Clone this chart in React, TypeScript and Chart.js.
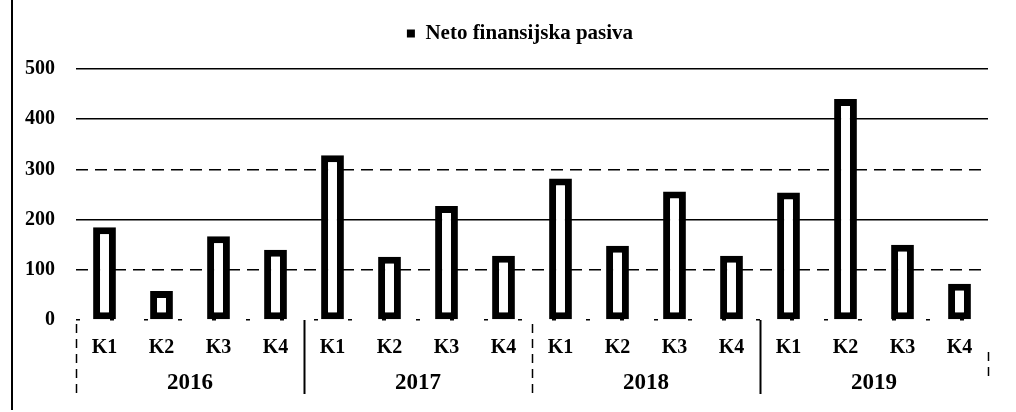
import { useEffect, useRef } from "react";
import { Chart, registerables } from "chart.js";

Chart.register(...registerables);

const quarterLabels = ["K1", "K2", "K3", "K4", "K1", "K2", "K3", "K4", "K1", "K2", "K3", "K4", "K1", "K2", "K3", "K4"];
const years = ["2016", "2017", "2018", "2019"];
const netoFinansijskaPasiva = [185, 58, 167, 140, 328, 126, 227, 128, 282, 148, 256, 128, 254, 440, 150, 72];
const seriesLabel = "Neto finansijska pasiva";
const yMin = 0;
const yMax = 500;
const yStep = 100;

const FONT = "'Liberation Serif', 'Times New Roman', serif";

const legendSpacer = {
  id: "legendSpacer",
  beforeInit(chart: any) {
    const legend = chart.legend;
    if (!legend) return;
    const origFit = legend.fit;
    legend.fit = function () {
      origFit.call(this);
      this.height += 15;
    };
  },
  afterLayout(chart: any) {
    const legend = chart.legend;
    if (!legend) return;
    legend.left += 26;
    legend.right += 26;
  },
};

const yearSeparators = {
  id: "yearSeparators",
  afterDraw(chart: any) {
    const xs = chart.scales.x;
    const ctx = chart.ctx;
    const perYear = quarterLabels.length / years.length;
    const step = (xs.right - xs.left) / quarterLabels.length;
    ctx.save();
    ctx.strokeStyle = "#000";
    for (let i = 0; i <= years.length; i++) {
      const px = Math.round(xs.left + i * perYear * step) + 0.5;
      const solid = i % 2 === 1;
      let top = chart.chartArea.bottom + (solid ? 0 : 4);
      let bottom = chart.chartArea.bottom + 74;
      if (i === years.length) {
        top = chart.chartArea.bottom + 32;
        bottom = chart.chartArea.bottom + 60;
      }
      ctx.lineWidth = solid ? 2 : 1.5;
      ctx.setLineDash(solid ? [] : [9, 6]);
      ctx.beginPath();
      ctx.moveTo(px, top);
      ctx.lineTo(px, bottom);
      ctx.stroke();
    }
    ctx.restore();
  },
};

export default function App() {
  const canvasRef = useRef<HTMLCanvasElement | null>(null);

  useEffect(() => {
    if (!canvasRef.current) return;
    const chart = new Chart(canvasRef.current, {
      type: "bar",
      data: {
        labels: quarterLabels,
        datasets: [
          {
            label: seriesLabel,
            data: netoFinansijskaPasiva,
            backgroundColor: "#ffffff",
            borderColor: "#000000",
            borderWidth: 7,
            borderSkipped: false,
            barPercentage: 0.4,
            categoryPercentage: 1,
            xAxisID: "x",
          },
        ],
      },
      options: {
        responsive: false,
        animation: false,
        layout: { padding: { left: 0, right: 28, top: 13, bottom: 13 } },
        plugins: {
          tooltip: { enabled: false },
          legend: {
            display: true,
            position: "top",
            labels: {
              color: "#000",
              boxWidth: 8,
              boxHeight: 8,
              padding: 10,
              font: { family: FONT, size: 21, weight: "bold" },
              generateLabels: (c: any) =>
                Chart.defaults.plugins.legend.labels.generateLabels(c).map((l: any) => ({
                  ...l,
                  fillStyle: "#000",
                  strokeStyle: "#000",
                  lineWidth: 0,
                })),
            },
          },
        },
        scales: {
          x: {
            type: "category",
            position: "bottom",
            weight: 0,
            offset: true,
            afterFit: (scale: any) => {
              scale.height = 39;
            },
            grid: { display: false, drawTicks: false },
            border: { display: false },
            ticks: {
              color: "#000",
              autoSkip: false,
              maxRotation: 0,
              padding: 16,
              font: { family: FONT, size: 20, weight: "bold" },
            },
          },
          year: {
            type: "category",
            position: "bottom",
            weight: 1,
            labels: years,
            offset: true,
            afterFit: (scale: any) => {
              scale.height = 40;
            },
            grid: { display: false, drawTicks: false },
            border: { display: false },
            ticks: {
              color: "#000",
              autoSkip: false,
              maxRotation: 0,
              padding: 10,
              font: { family: FONT, size: 23, weight: "bold" },
            },
          },
          y: {
            min: yMin,
            max: yMax,
            afterFit: (scale: any) => {
              scale.width = 76;
            },
            ticks: {
              stepSize: yStep,
              color: "#000",
              padding: 21,
              font: { family: FONT, size: 20, weight: "bold" },
            },
            grid: {
              color: "#000",
              lineWidth: 1.5,
              drawTicks: false,
            },
            border: {
              display: false,
              dash: (ctx: any) => {
                const v = ctx.tick ? ctx.tick.value : -1;
                if (v === 0) return [4, 30];
                if (v === 100 || v === 300) return [12, 7];
                return [];
              },
            },
          },
        },
      },
      plugins: [legendSpacer, yearSeparators],
    } as any);
    return () => chart.destroy();
  }, []);

  return (
    <div style={{ position: "fixed", left: 0, top: 0, width: 1016, height: 412, background: "#fff" }}>
      <div style={{ position: "absolute", left: 11, top: 0, width: 2, height: 410, background: "#000" }} />
      <canvas ref={canvasRef} width={1016} height={412} style={{ position: "absolute", left: 0, top: 0 }} />
    </div>
  );
}
